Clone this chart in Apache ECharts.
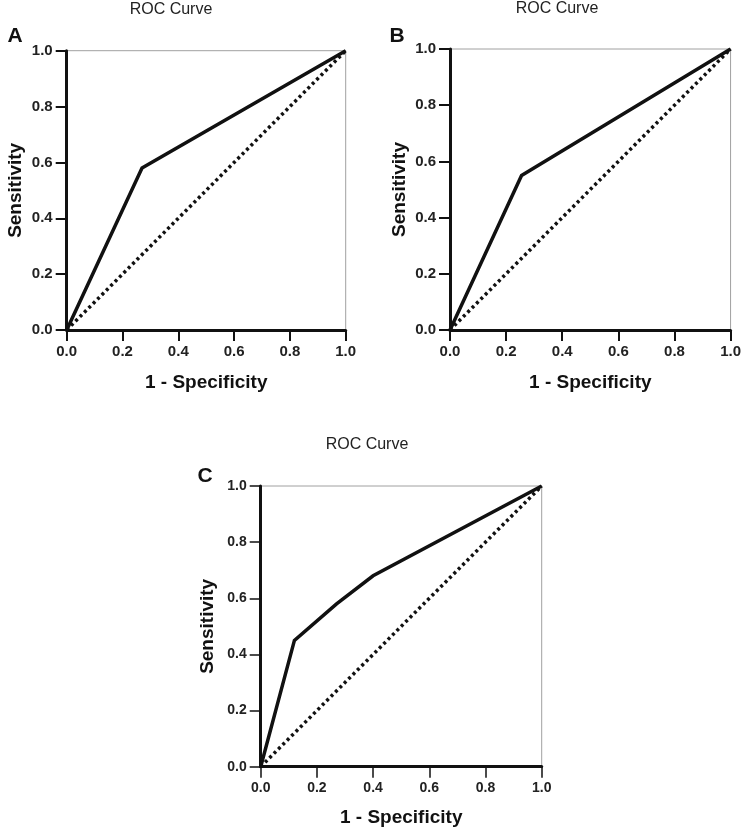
<!DOCTYPE html>
<html>
<head>
<meta charset="utf-8">
<script src="https://cdn.jsdelivr.net/npm/echarts@6/dist/echarts.min.js"></script>
<style>
html,body{margin:0;padding:0;background:#fff;}
#chart{width:744px;height:830px;}
</style>
</head>
<body>
<div id="chart"></div>
<script>
// ---- data ----
const panelLabels = ['A', 'B', 'C'];
const panelTitles = ['ROC Curve', 'ROC Curve', 'ROC Curve'];
const rocA_fpr = [0, 0.27, 1];
const rocA_tpr = [0, 0.58, 1];
const rocB_fpr = [0, 0.255, 1];
const rocB_tpr = [0, 0.55, 1];
const rocC_fpr = [0, 0.12, 0.27, 0.40, 1];
const rocC_tpr = [0, 0.45, 0.58, 0.68, 1];
const ref_fpr = [0, 1];
const ref_tpr = [0, 1];
const xAxisName = '1 - Specificity';
const yAxisName = 'Sensitivity';

const FONT = '"Liberation Sans", Arial, Helvetica, sans-serif';
const pairs = (xs, ys) => xs.map((x, i) => [x, ys[i]]);

const grids = [
  {left: 66.7, top: 50.7, width: 279, height: 279.3},
  {left: 450, top: 49, width: 281, height: 281},
  {left: 260.7, top: 486, width: 281, height: 280.7}
];
const yNameGap = [41, 41, 43];
const xNameGap = [43, 43, 42];

const chart = echarts.init(document.getElementById('chart'), null, {renderer: 'canvas'});

const option = {
  animation: false,
  backgroundColor: '#fff',
  grid: grids.map(g => Object.assign({show: true, borderColor: '#a0a0a0', borderWidth: 1, backgroundColor: 'transparent', containLabel: false}, g)),
  xAxis: grids.map((g, i) => ({
    type: 'value', gridIndex: i, min: 0, max: 1, interval: 0.2,
    name: xAxisName, nameLocation: 'middle', nameGap: xNameGap[i],
    nameTextStyle: {fontFamily: FONT, fontWeight: 'bold', fontSize: 19, color: '#111'},
    axisLine: {show: true, onZero: false, lineStyle: {color: '#111', width: 3}},
    axisTick: {show: true, length: 11, lineStyle: {color: '#111', width: i === 2 ? 1.5 : 2}},
    axisLabel: {margin: 14, fontFamily: FONT, fontWeight: 'bold', fontSize: i === 2 ? 14 : 15, color: '#222',
      formatter: v => v.toFixed(1)},
    splitLine: {show: false}
  })),
  yAxis: grids.map((g, i) => ({
    type: 'value', gridIndex: i, min: 0, max: 1, interval: 0.2,
    name: yAxisName, nameLocation: 'middle', nameGap: yNameGap[i],
    nameTextStyle: {fontFamily: FONT, fontWeight: 'bold', fontSize: 19, color: '#111'},
    axisLine: {show: true, onZero: false, lineStyle: {color: '#111', width: 3}},
    axisTick: {show: true, length: 11, lineStyle: {color: '#111', width: i === 2 ? 1.5 : 2}},
    axisLabel: {margin: 14, fontFamily: FONT, fontWeight: 'bold', fontSize: i === 2 ? 14 : 15, color: '#222',
      formatter: v => v.toFixed(1)},
    splitLine: {show: false}
  })),
  series: [],
  graphic: []
};

const rocs = [pairs(rocA_fpr, rocA_tpr), pairs(rocB_fpr, rocB_tpr), pairs(rocC_fpr, rocC_tpr)];
rocs.forEach((d, i) => {
  option.series.push({
    type: 'line', xAxisIndex: i, yAxisIndex: i, data: pairs(ref_fpr, ref_tpr),
    symbol: 'none', silent: true,
    lineStyle: {color: '#111', width: 3.5, type: [3, 3.2], cap: 'butt'}
  });
  option.series.push({
    type: 'line', xAxisIndex: i, yAxisIndex: i, data: d,
    symbol: 'none', silent: true,
    lineStyle: {color: '#111', width: 3.5, join: 'miter'}
  });
});

// titles and panel letters
const titlePos = [[171, 10], [557, 9], [367, 445]];
const letterPos = [[15, 36], [397, 36], [205, 476]];
titlePos.forEach((p, i) => {
  option.graphic.push({type: 'text', silent: true, style: {
    x: p[0], y: p[1], text: panelTitles[i], align: 'center', verticalAlign: 'middle',
    font: 'normal 16px ' + FONT, fill: '#222'}});
  option.graphic.push({type: 'text', silent: true, style: {
    x: letterPos[i][0], y: letterPos[i][1], text: panelLabels[i], align: 'center', verticalAlign: 'middle',
    font: 'bold 21px ' + FONT, fill: '#111'}});
});

chart.setOption(option);
</script>
</body>
</html>
